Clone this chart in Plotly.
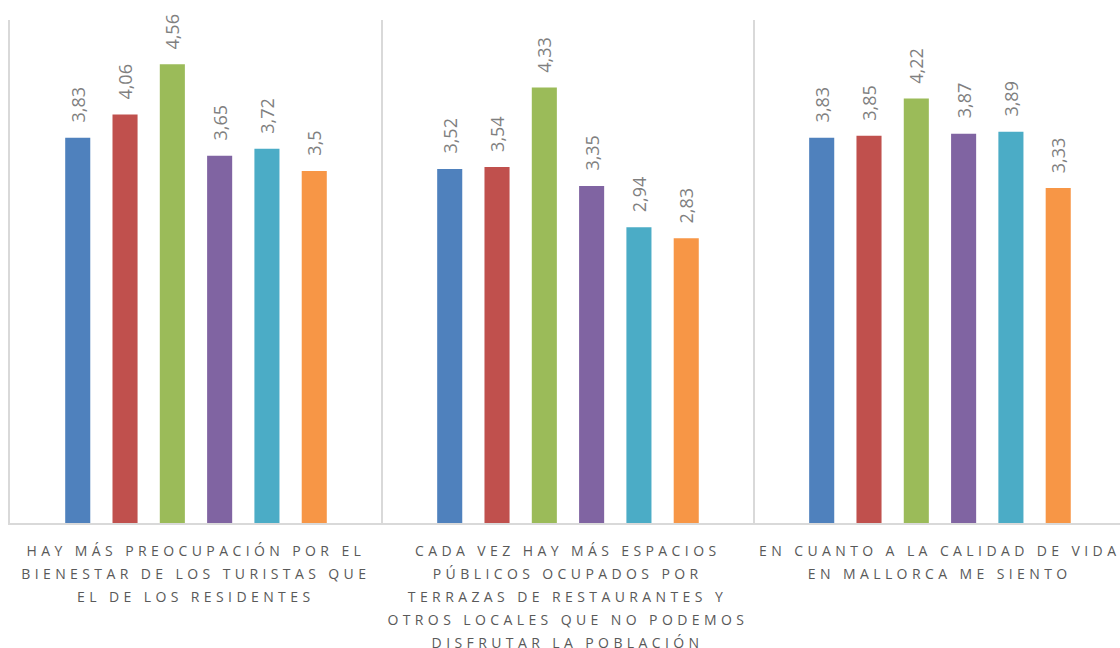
import plotly.graph_objects as go

categories = [
    "HAY MÁS PREOCUPACIÓN POR EL BIENESTAR DE LOS TURISTAS QUE EL DE LOS RESIDENTES",
    "CADA VEZ HAY MÁS ESPACIOS PÚBLICOS OCUPADOS POR TERRAZAS DE RESTAURANTES Y OTROS LOCALES QUE NO PODEMOS DISFRUTAR LA POBLACIÓN",
    "EN CUANTO A LA CALIDAD DE VIDA EN MALLORCA ME SIENTO",
]
category_lines = [
    ["HAY MÁS PREOCUPACIÓN POR EL", "BIENESTAR DE LOS TURISTAS QUE", "EL DE LOS RESIDENTES"],
    ["CADA VEZ HAY MÁS ESPACIOS", "PÚBLICOS OCUPADOS POR", "TERRAZAS DE RESTAURANTES Y",
     "OTROS LOCALES QUE NO PODEMOS", "DISFRUTAR LA POBLACIÓN"],
    ["EN CUANTO A LA CALIDAD DE VIDA", "EN MALLORCA ME SIENTO"],
]
series_names = ["Serie 1", "Serie 2", "Serie 3", "Serie 4", "Serie 5", "Serie 6"]
serie_1 = [3.83, 3.52, 3.83]
serie_2 = [4.06, 3.54, 3.85]
serie_3 = [4.56, 4.33, 4.22]
serie_4 = [3.65, 3.35, 3.87]
serie_5 = [3.72, 2.94, 3.89]
serie_6 = [3.5, 2.83, 3.33]
series_values = [serie_1, serie_2, serie_3, serie_4, serie_5, serie_6]
colors = ["#4F81BD", "#C0504D", "#9BBB59", "#8064A2", "#4BACC6", "#F79646"]

BARGAP = 0.237
BARGROUPGAP = 0.47
LABEL_COLOR = "#595959"
VALUE_COLOR = "#7f7f7f"
GRID = "#d9d9d9"

fig = go.Figure()
for name, vals, col in zip(series_names, series_values, colors):
    fig.add_trace(go.Bar(x=categories, y=vals, name=name, marker=dict(color=col, line=dict(width=0))))

annotations = []
# category labels (indices first so CSS letter spacing can target them)
n_cat_ann = 0
for i, lines in enumerate(category_lines):
    for k, line in enumerate(lines):
        annotations.append(dict(
            x=i, xref="x", y=0, yref="paper", text=line, showarrow=False,
            xanchor="center", yanchor="middle", yshift=-27 - 23 * k,
            font=dict(family="Open Sans", size=14, color=LABEL_COLOR),
        ))
        n_cat_ann += 1

nser = len(series_values)
for j, vals in enumerate(series_values):
    off = (1 - BARGAP) * ((j + 0.5) / nser - 0.5)
    for i, v in enumerate(vals):
        annotations.append(dict(
            x=i + off, xref="x", y=v, yref="y", text=str(v).replace(".", ","),
            showarrow=False, textangle=-90, xanchor="center", yanchor="bottom",
            yshift=13, font=dict(family="Open Sans", size=18, color=VALUE_COLOR),
        ))

fig.update_layout(
    width=1120, height=648,
    margin=dict(l=10, r=0, t=20, b=125, pad=0),
    paper_bgcolor="white", plot_bgcolor="white",
    barmode="group", bargap=BARGAP, bargroupgap=BARGROUPGAP,
    showlegend=False,
    annotations=annotations,
    xaxis=dict(
        range=[-0.5, 2.484], showticklabels=False, ticks="",
        tickson="boundaries", showgrid=True, gridcolor=GRID, gridwidth=2,
        showline=True, linecolor=GRID, linewidth=2, zeroline=False, fixedrange=True,
    ),
    yaxis=dict(
        range=[0, 5], showticklabels=False, ticks="", showgrid=False, zeroline=False,
        showline=True, linecolor=GRID, linewidth=2, fixedrange=True,
    ),
)

sel = ", ".join('.annotation[data-index="%d"] text' % k for k in range(n_cat_ann))
css = "html,body{margin:0;padding:0;overflow:hidden;} " + sel + "{letter-spacing:4.4px;}"
post = ("var s=document.createElement('style');s.innerHTML='" + css +
        "';document.head.appendChild(s);")
fig.write_html("out.html", post_script=post, config={"displayModeBar": False, "staticPlot": True})
